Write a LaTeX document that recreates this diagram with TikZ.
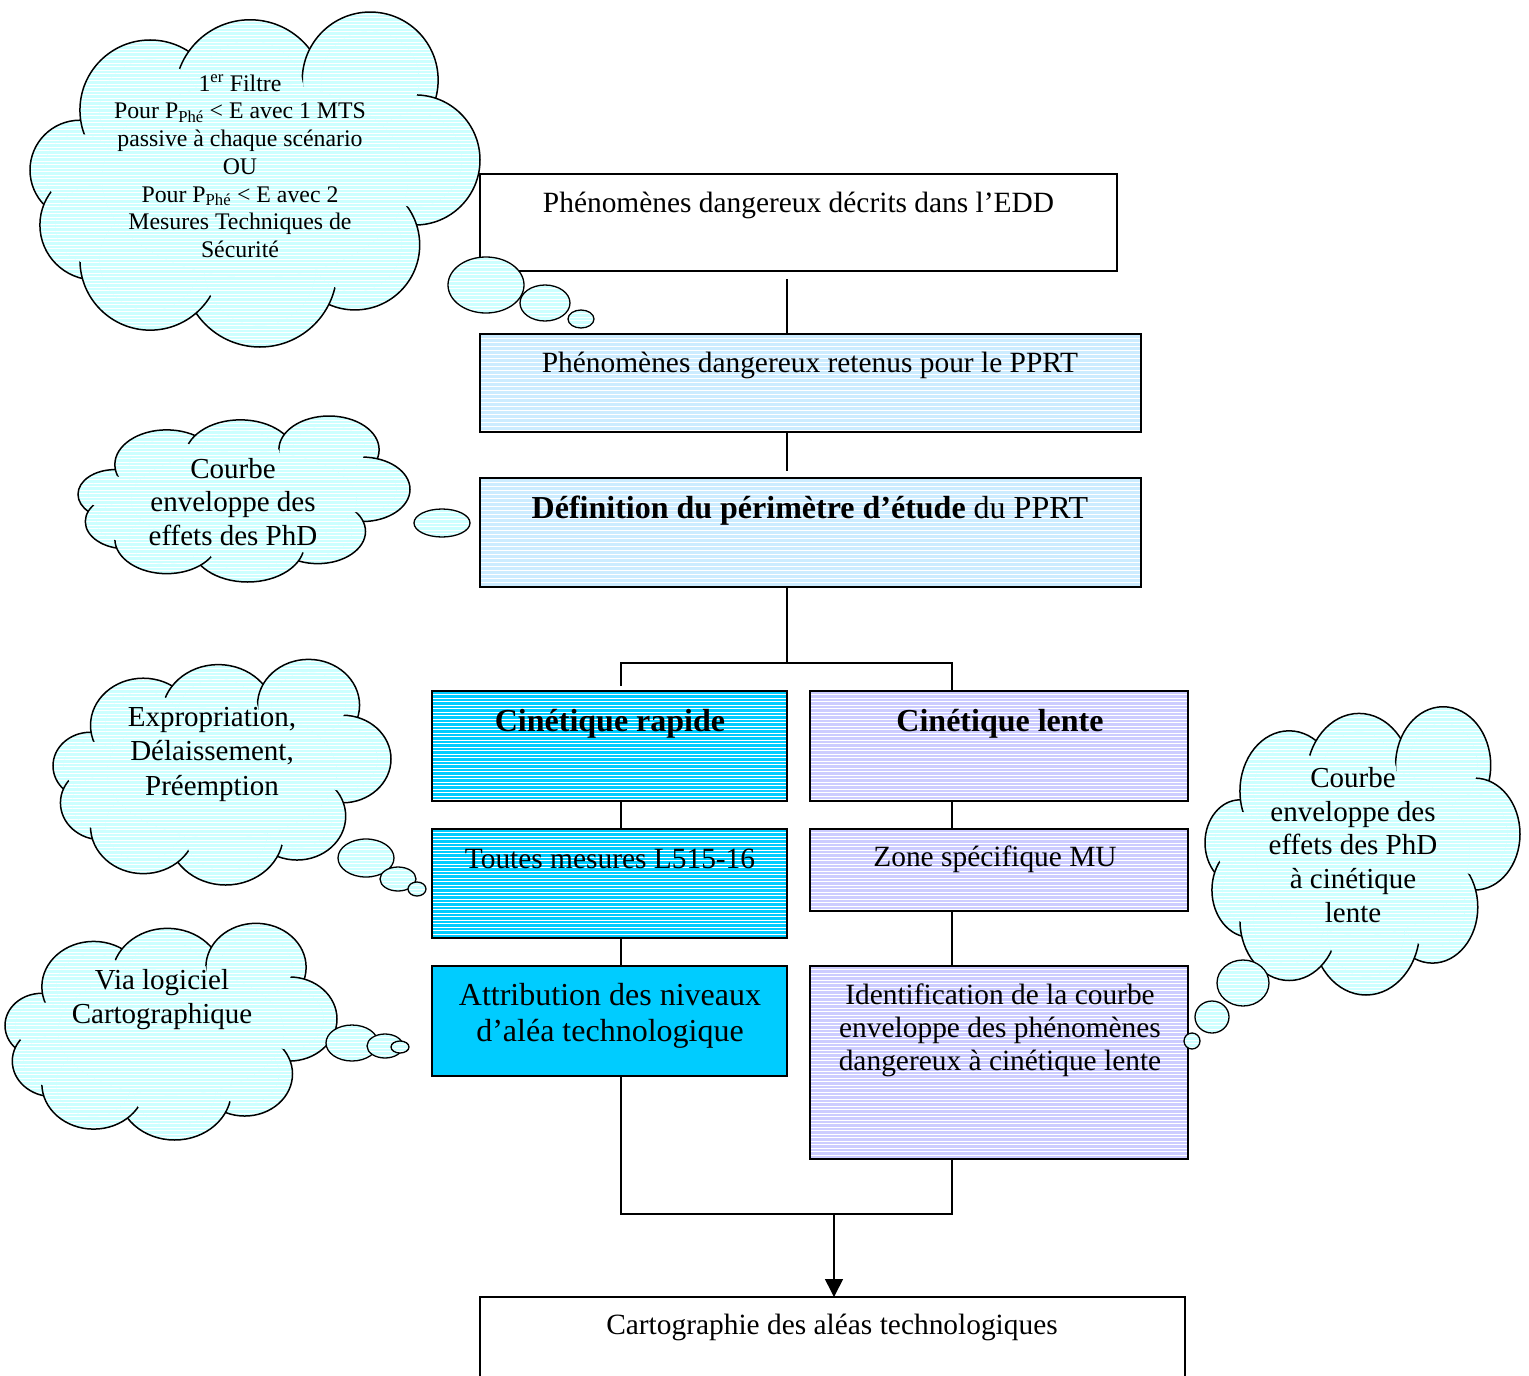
\documentclass[tikz,border=0pt]{standalone}
\usepackage{fontspec}
\setmainfont{Liberation Serif}
\usetikzlibrary{shapes.geometric,arrows.meta}
\definecolor{cloudcyan}{HTML}{CCFFFF}
\definecolor{paleblue}{HTML}{CCECFF}
\definecolor{skyblue}{HTML}{00CCFF}
\definecolor{lavender}{HTML}{CCCCFF}

% ellipse filled in cyan, crossed by white lines on a fixed 3.5pt grid
\newcommand\stripedellipse[4]{%
  \fill[cloudcyan] (#1,#2) ellipse [x radius=#3pt, y radius=#4pt];
  \begin{scope}
    \clip (#1,#2) ellipse [x radius=#3pt, y radius=#4pt];
    \pgfmathtruncatemacro\kmin{floor((#2-#4)/3.5)}%
    \pgfmathtruncatemacro\kmax{ceil((#2+#4)/3.5)}%
    \foreach \k in {\kmin,...,\kmax}{%
      \pgfmathsetmacro\yy{floor(\k*3.5)+0.5}%
      \draw[white, line width=1pt] (#1-#3,\yy) -- (#1+#3,\yy);
    }
  \end{scope}}

% lobes of a cloud, in fractions of its box: centre u, v and radii
\newcommand\lobelist{0.111/0.475/0.111/0.148, 0.144/0.638/0.122/0.163,
      0.267/0.297/0.156/0.208, 0.489/0.252/0.167/0.223, 0.756/0.208/0.151/0.202,
      0.856/0.445/0.144/0.193, 0.722/0.697/0.144/0.193, 0.511/0.772/0.171/0.228,
      0.267/0.742/0.156/0.208}

% cloud made of overlapping lobes inside the box (x0,y0,w,h);
% shrunken copies of the lobes then trim the inner arcs to short stubs
\newcommand\thoughtcloud[4]{%
  \foreach \u/\v/\ru/\rv in \lobelist {%
    \pgfmathsetmacro\cx{#1+\u*#3}\pgfmathsetmacro\cy{#2+\v*#4}%
    \pgfmathsetmacro\rx{\ru*#3}\pgfmathsetmacro\ry{\rv*#4}%
    \stripedellipse{\cx}{\cy}{\rx}{\ry}
    \draw[line width=1.5pt] (\cx,\cy) ellipse [x radius=\rx pt, y radius=\ry pt];
  }%
  \foreach \u/\v/\ru/\rv in \lobelist {%
    \pgfmathsetmacro\cx{#1+\u*#3}\pgfmathsetmacro\cy{#2+\v*#4}%
    \pgfmathsetmacro\rx{0.72*\ru*#3}\pgfmathsetmacro\ry{0.72*\rv*#4}%
    \stripedellipse{\cx}{\cy}{\rx}{\ry}
  }%
  \pgfmathsetmacro\cx{#1+0.5*#3}\pgfmathsetmacro\cy{#2+0.504*#4}%
  \pgfmathsetmacro\rx{0.34*#3}\pgfmathsetmacro\ry{0.29*#4}%
  \stripedellipse{\cx}{\cy}{\rx}{\ry}}

\begin{document}
\begin{tikzpicture}[x=1pt,y=-1pt,line width=1.5pt,
  box/.style={draw, rectangle, inner sep=0pt, outer sep=0pt, anchor=north west},
  % solid fill crossed by thin white horizontal lines
  stripes/.style 2 args={fill=#1, path picture={
      \foreach \k in {0,...,100}{
        \pgfmathsetmacro\off{floor(\k*#2)+0.5}
        \draw[white, line width=1pt]
          ([yshift=-\off pt]path picture bounding box.north west) --
          ([yshift=-\off pt]path picture bounding box.north east);
      }}},
  boxtext/.style={font=\fontsize{29.4}{34}\selectfont, align=center, inner sep=0pt, yshift=-2pt},
  bigtext/.style={font=\fontsize{32}{36}\selectfont, align=center, inner sep=0pt, yshift=-2pt},
  cloudtext/.style={font=\fontsize{29}{34}\selectfont, align=center, inner sep=0pt, yshift=-2pt},
  smalltext/.style={font=\fontsize{23.8}{27.7}\selectfont, align=center, inner sep=0pt},
  bubble/.style={draw, ellipse, inner sep=0pt, line width=1.3pt, stripes={cloudcyan}{3.5}},
]
\useasboundingbox (0,0) rectangle (1529,1376);

% thought clouds
\thoughtcloud{30}{10}{450}{337}
\thoughtcloud{78}{415}{332}{167}
\thoughtcloud{53}{658}{338}{227}
\thoughtcloud{1205}{705}{315}{290}
\thoughtcloud{5}{922}{332}{218}

% vertical guides of the flow
\coordinate (trunk) at (787,0);
\coordinate (colL) at (621,0);
\coordinate (colR) at (952,0);
\coordinate (split) at (787,663);
\coordinate (merge) at (834,1214);

% boxes
\node[box, fill=white, minimum width=637pt, minimum height=97pt] (b1) at (480,174) {};
\node[box, stripes={paleblue}{4}, minimum width=661pt, minimum height=98pt] (b2) at (480,334) {};
\node[box, stripes={paleblue}{4}, minimum width=661pt, minimum height=109pt] (b3) at (480,478) {};
\node[box, stripes={skyblue}{3.5}, minimum width=355pt, minimum height=110pt] (b4) at (432,691) {};
\node[box, stripes={lavender}{3.5}, minimum width=378pt, minimum height=110pt] (b5) at (810,691) {};
\node[box, stripes={skyblue}{3.5}, minimum width=355pt, minimum height=109pt] (b6) at (432,829) {};
\node[box, stripes={lavender}{3.5}, minimum width=378pt, minimum height=82pt] (b7) at (810,829) {};
\node[box, fill=skyblue, minimum width=355pt, minimum height=110pt] (b8) at (432,966) {};
\node[box, stripes={lavender}{3.5}, minimum width=378pt, minimum height=193pt] (b9) at (810,966) {};
\node[box, fill=white, minimum width=705pt, minimum height=110pt] (b10) at (480,1297) {};

% box texts
\node[boxtext] (t1) at (798.5,203) {Phénomènes dangereux décrits dans l’EDD};
\node[boxtext] (t2) at (810,363) {Phénomènes dangereux retenus pour le PPRT};
\node[bigtext] (t3) at (810,509) {\textbf{Définition du périmètre d’étude} du PPRT};
\node[bigtext] (t4) at (610,722) {\textbf{Cinétique rapide}};
\node[bigtext] (t5) at (1000,722) {\textbf{Cinétique lente}};
\node[boxtext] (t6) at (610,857) {Toutes mesures L515-16};
\node[boxtext] (t7) at (995,857) {Zone spécifique MU};
\node[bigtext] (t8) at (610,1014) {Attribution des niveaux\\d’aléa technologique};
\node[boxtext, font=\fontsize{29.4}{33}\selectfont] (t9) at (1000,1028) {Identification de la courbe\\enveloppe des phénomènes\\dangereux à cinétique lente};
\node[boxtext] (t10) at (832,1325) {Cartographie des aléas technologiques};

% connectors
\draw[shorten <=8pt] (b1.south -| trunk) -- (b2.north -| trunk);
\draw[shorten >=7pt] (b2.south -| trunk) -- (b3.north -| trunk);
\draw (b3.south -| trunk) -- (split);
\draw[shorten <=5pt] (colL |- b4.north) -- (colL |- split) -- (colR |- split) -- (colR |- b5.north);
\draw (colL |- b4.south) -- (colL |- b6.north);
\draw (colL |- b6.south) -- (colL |- b8.north);
\draw (colR |- b5.south) -- (colR |- b7.north);
\draw (colR |- b7.south) -- (colR |- b9.north);
\draw (colL |- b8.south) -- (colL |- merge) -- (colR |- merge) -- (colR |- b9.south);
\draw[-{Triangle[width=18pt,length=18pt]}] (merge) -- (merge |- b10.north);

% cloud texts and trailing bubbles
\node[smalltext] (c1t) at (240,166) {1\textsuperscript{er} Filtre\\Pour P\textsubscript{Phé} < E avec 1 MTS\\passive à chaque scénario\\OU\\Pour P\textsubscript{Phé} < E avec 2\\Mesures Techniques de\\Sécurité};
\node[bubble, minimum width=76pt, minimum height=56pt] (c1a) at (486,285) {};
\node[bubble, minimum width=50pt, minimum height=36pt] (c1b) at (545,303) {};
\node[bubble, minimum width=26pt, minimum height=18pt] (c1c) at (581,319) {};

\node[cloudtext, font=\fontsize{29}{33.5}\selectfont] (c2t) at (233,500) {Courbe\\enveloppe des\\effets des PhD};
\node[bubble, minimum width=56pt, minimum height=28pt] (c2a) at (442,523) {};

\node[cloudtext, font=\fontsize{29}{34.5}\selectfont] (c3t) at (212,752) {Expropriation,\\Délaissement,\\Préemption};
\node[bubble, minimum width=56pt, minimum height=38pt] (c3a) at (366,858) {};
\node[bubble, minimum width=36pt, minimum height=24pt] (c3b) at (398,879) {};
\node[bubble, minimum width=18pt, minimum height=14pt] (c3c) at (417,889) {};

\node[cloudtext, font=\fontsize{29}{33.7}\selectfont] (c4t) at (1353,843) {Courbe\\enveloppe des\\effets des PhD\\à cinétique\\lente};
\node[bubble, minimum width=52pt, minimum height=46pt] (c4a) at (1243,983) {};
\node[bubble, minimum width=34pt, minimum height=32pt] (c4b) at (1212,1017) {};
\node[bubble, minimum width=16pt, minimum height=16pt] (c4c) at (1192,1041) {};

\node[cloudtext] (c5t) at (162,998) {Via logiciel\\Cartographique};
\node[bubble, minimum width=52pt, minimum height=36pt] (c5a) at (352,1043) {};
\node[bubble, minimum width=36pt, minimum height=24pt] (c5b) at (385,1046) {};
\node[bubble, minimum width=18pt, minimum height=12pt] (c5c) at (400,1047) {};
\end{tikzpicture}
\end{document}
